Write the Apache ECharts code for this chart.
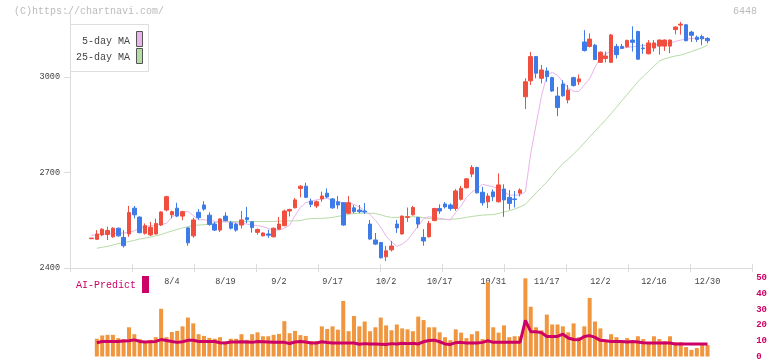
<!DOCTYPE html>
<html><head><meta charset="utf-8">
<script src="https://cdn.jsdelivr.net/npm/echarts@6/dist/echarts.min.js"></script>
<style>html,body{margin:0;padding:0;background:#fff}#c{width:772px;height:361px}</style>
</head><body><div id="c"></div>
<script>
const dates = ['7/11','7/14','7/15','7/16','7/17','7/18','7/22','7/23','7/24','7/25','7/28','7/29','7/30','7/31',
'8/1','8/4','8/5','8/6','8/7','8/8','8/12','8/13','8/14','8/15','8/18','8/19','8/20','8/21','8/22','8/25','8/26','8/27','8/28','8/29',
'9/1','9/2','9/3','9/4','9/5','9/8','9/9','9/10','9/11','9/12','9/16','9/17','9/18','9/19','9/22','9/24','9/25','9/26','9/29','9/30',
'10/1','10/2','10/3','10/6','10/7','10/8','10/9','10/10','10/14','10/15','10/16','10/17','10/20','10/21','10/22','10/23','10/24','10/27','10/28','10/29','10/30','10/31',
'11/4','11/5','11/6','11/7','11/10','11/11','11/12','11/13','11/14','11/17','11/18','11/19','11/20','11/21','11/25','11/26','11/27','11/28',
'12/1','12/2','12/3','12/4','12/5','12/8','12/9','12/10','12/11','12/12','12/15','12/16','12/17','12/18','12/19','12/22','12/23','12/24','12/25','12/26','12/29','12/30'];
const tickLabels = ['8/4','8/19','9/2','9/17','10/2','10/17','10/31','11/17','12/2','12/16','12/30'];
const priceTicks = [2400, 2700, 3000];
const volTicks = [0, 10, 20, 30, 40, 50];

const opens  = [2492,2490,2504,2505,2498,2525,2496,2507,2588,2560,2509,2504,2507,2535,2582,2567,2588,2563,2526,2501,2575,2598,2566,2538,2519,2563,2542,2538,2535,2558,2545,2512,2501,2507,2498,2522,2533,2579,2589,2650,2657,2610,2595,2617,2635,2617,2608,2605,2572,2589,2582,2579,2538,2488,2480,2435,2457,2538,2507,2559,2567,2559,2496,2498,2549,2587,2601,2598,2587,2616,2652,2695,2716,2638,2608,2639,2608,2648,2622,2617,2635,2938,2988,3064,2996,3019,2998,2940,2978,2928,2998,2985,3110,3096,3100,3046,3058,3046,3096,3096,3095,3116,3143,3091,3073,3091,3097,3097,3097,3149,3163,3164,3141,3125,3127,3121];
const closes = [2494,2507,2522,2518,2525,2501,2470,2574,2567,2511,2533,2528,2540,2576,2624,2577,2563,2577,2479,2551,2558,2585,2537,2519,2554,2549,2525,2519,2551,2552,2527,2521,2510,2503,2525,2538,2579,2584,2614,2657,2622,2600,2608,2626,2623,2589,2598,2535,2605,2577,2577,2576,2491,2475,2432,2454,2469,2526,2563,2561,2590,2538,2485,2540,2587,2579,2592,2587,2642,2650,2680,2716,2636,2605,2626,2624,2661,2614,2603,2615,2645,2985,3064,3012,3022,3001,2956,2904,2941,2959,2973,2994,3083,3119,3055,3078,3066,3132,3070,3090,3115,3109,3056,3089,3107,3107,3116,3116,3116,3157,3166,3114,3131,3118,3120,3114];
const lows   = [2492,2488,2500,2488,2495,2498,2464,2498,2556,2509,2505,2500,2505,2532,2578,2556,2560,2550,2470,2495,2552,2580,2533,2516,2513,2546,2521,2514,2524,2541,2511,2505,2499,2495,2496,2520,2531,2562,2588,2622,2620,2591,2588,2608,2620,2586,2586,2533,2570,2572,2572,2570,2489,2472,2430,2422,2452,2510,2505,2545,2565,2525,2470,2496,2547,2570,2587,2580,2580,2612,2650,2685,2634,2596,2588,2610,2606,2561,2583,2590,2625,2899,2975,2996,2980,2985,2953,2877,2938,2917,2970,2975,3080,3093,3053,3044,3046,3044,3058,3088,3093,3080,3054,3073,3071,3080,3070,3082,3075,3134,3133,3112,3110,3110,3100,3106];
const highs  = [2494,2519,2525,2530,2528,2527,2519,2595,2595,2562,2540,2545,2555,2578,2627,2580,2605,2580,2528,2558,2585,2610,2575,2545,2556,2575,2548,2542,2579,2592,2547,2524,2512,2520,2527,2560,2583,2586,2620,2660,2668,2618,2612,2640,2650,2620,2626,2607,2626,2598,2598,2604,2551,2510,2482,2469,2485,2551,2565,2590,2595,2561,2522,2548,2589,2600,2607,2603,2648,2658,2682,2723,2718,2655,2635,2647,2697,2663,2645,2642,2650,2996,3079,3066,3038,3030,3001,2969,2990,2975,3001,3008,3147,3137,3104,3080,3080,3135,3104,3104,3117,3159,3145,3104,3116,3116,3118,3118,3118,3159,3173,3166,3145,3130,3133,3125];

const ma5 = [2502,2505,2506,2507,2508,2509,2510,2512,2517,2524,2530,2533,2535,2537,2540,2560,2569,2576,2578,2565,2551,2552,2548,2547,2546,2545,2543,2542,2541,2538,2535,2533,2530,2524,2519,2519,2525,2535,2565,2590,2605,2610,2614,2617,2619,2612,2608,2605,2605,2600,2592,2580,2568,2550,2528,2500,2482,2468,2475,2488,2510,2532,2555,2561,2558,2556,2553,2551,2575,2595,2622,2638,2650,2663,2659,2655,2650,2640,2629,2629,2629,2640,2760,2850,2940,3005,3015,3005,2985,2965,2955,2955,2975,2995,3030,3060,3073,3080,3084,3090,3093,3095,3097,3099,3100,3101,3103,3105,3107,3112,3116,3119,3121,3122,3121,3121];
const ma25 = [null,2462,2465,2468,2472,2477,2480,2483,2487,2491,2494,2497,2501,2505,2511,2516,2521,2526,2530,2533,2535,2536,2538,2542,2545,2546,2546,2546,2546,2546,2546,2546,2546,2546,2546,2547,2548,2548,2548,2549,2553,2555,2556,2556,2557,2559,2562,2565,2569,2571,2572,2572,2572,2571,2567,2562,2559,2559,2560,2561,2561,2560,2558,2556,2554,2553,2553,2553,2554,2556,2559,2562,2564,2566,2567,2568,2571,2576,2580,2585,2592,2600,2618,2636,2653,2670,2690,2710,2728,2742,2758,2775,2793,2812,2830,2848,2866,2885,2905,2925,2945,2965,2985,3002,3018,3034,3050,3057,3062,3066,3069,3074,3080,3086,3092,3100];

const volume = [null,11.3,13.4,13.8,13.8,11.7,11.1,18.6,14.2,11.1,9.6,10.6,12.3,30.4,12.3,15.6,16.3,19.2,24.8,21.1,14.2,13.1,11.9,11.3,12.3,9.6,11.3,11.3,14.2,10.6,14.2,15.4,12.9,12.9,13.8,14.4,22.5,14.8,16.3,13.6,13.1,9.8,9.8,19.2,17.5,19.2,17.1,35.4,16.1,25.8,19.2,22.3,16.1,18.6,24.8,19.8,16.7,20.4,17.9,17.3,16.1,25.4,23.2,18.6,18.6,15.4,12.3,10.4,17.3,15.2,11.7,14.2,16.1,11.1,47.3,18.6,15.2,19.8,12.3,12.9,12.9,49.8,31.7,18.6,16.7,26.7,20.4,20.4,19.2,15.4,21.1,12.3,19.2,37.3,22.3,17.9,10.4,14.2,12.3,9.2,11.7,9.2,12.9,11.1,9.2,12.9,11.1,9.8,12.9,9.2,9.2,6.0,4.2,5.4,7.3,7.3];
const aiPredict = [null,8.8,9.6,9.6,9.6,9.6,9.8,10.0,10.6,9.6,9.2,9.4,9.6,10.8,10.2,9.6,9.0,9.4,10.3,10.3,9.6,9.6,9.6,9.6,8.8,8.6,9.2,9.2,9.4,9.2,9.0,9.6,9.4,9.2,9.0,9.0,9.0,8.3,9.2,9.6,9.2,8.6,8.6,9.4,8.9,8.6,8.6,8.6,8.6,8.6,7.8,8.2,7.9,7.9,7.8,7.7,8.2,7.9,8.4,8.2,8.4,8.0,9.4,10.2,10.4,9.4,8.0,7.7,8.8,9.0,8.6,8.6,8.6,9.0,10.0,9.0,9.0,9.0,9.0,9.0,9.0,23.0,15.8,15.8,15.2,12.8,12.8,12.8,14.2,11.8,10.8,10.6,12.8,13.3,12.2,10.3,10.0,9.6,9.6,9.6,9.2,9.6,9.2,8.8,8.6,8.6,8.6,8.6,8.6,7.9,7.9,7.9,7.9,7.9,7.9,7.9];

const candles = opens.map((o, i) => [o, closes[i], lows[i], highs[i]]);
const FONT = 'Liberation Mono';
const RED = '#f04e3e', BLUE = '#3d7be8';

const chart = echarts.init(document.getElementById('c'), null, {renderer: 'canvas'});
const CL = 88.8, CR = 61.8;
chart.setOption({
  animation: false,
  backgroundColor: '#fff',
  grid: [
    {left: CL, right: CR, top: 13.33, bottom: 93},
    {left: 70, right: 20, top: 13.33, bottom: 93},
    {left: CL, right: CR, top: 278, bottom: 2.3}
  ],
  xAxis: [
    {type: 'category', gridIndex: 0, data: dates, boundaryGap: true,
     axisLine: {show: false}, axisTick: {show: false}, splitLine: {show: false},
     axisLabel: {show: true, interval: (i) => tickLabels.indexOf(dates[i]) >= 0, margin: 9,
       color: '#444', fontFamily: FONT, fontSize: 8.5}},
    {type: 'value', gridIndex: 1, min: 0, max: 11, interval: 1,
     axisLine: {show: true, lineStyle: {color: '#dcdcdc', width: 1}},
     axisTick: {show: true, inside: true, length: 4, lineStyle: {color: '#dcdcdc'}},
     axisLabel: {show: false}, splitLine: {show: false}},
    {type: 'value', gridIndex: 1, min: 0, max: 11, interval: 1, position: 'bottom',
     axisLine: {show: false},
     axisTick: {show: true, inside: false, length: 4, lineStyle: {color: '#dcdcdc'}},
     axisLabel: {show: false}, splitLine: {show: false}},
    {type: 'category', gridIndex: 2, data: dates, boundaryGap: true,
     axisLine: {show: false}, axisTick: {show: false}, axisLabel: {show: false}, splitLine: {show: false}}
  ],
  yAxis: [
    {type: 'value', gridIndex: 0, min: 2400, max: 3200, show: false, splitLine: {show: false}},
    {type: 'value', gridIndex: 1, min: 2400, max: 3200, interval: 300,
     axisLine: {show: true, lineStyle: {color: '#dcdcdc'}},
     axisTick: {show: true, length: 6, lineStyle: {color: '#dcdcdc'}},
     axisLabel: {margin: 10, color: '#444', fontFamily: FONT, fontSize: 8.5,
       formatter: (v) => priceTicks.indexOf(v) >= 0 ? String(v) : ''},
     splitLine: {show: false}},
    {type: 'value', gridIndex: 2, min: 0, max: 50, interval: 10, position: 'right',
     axisLine: {show: false}, axisTick: {show: false}, splitLine: {show: false},
     axisLabel: {margin: 46, align: 'left', color: '#cc0066', fontFamily: FONT, fontSize: 9, fontWeight: 'bold',
       formatter: (v) => volTicks.indexOf(v) >= 0 ? String(v) : ''}}
  ],
  series: [
    {type: 'line', xAxisIndex: 0, yAxisIndex: 0, data: ma25, symbol: 'none', z: 1,
     lineStyle: {color: '#b6dca6', width: 1}},
    {type: 'line', xAxisIndex: 0, yAxisIndex: 0, data: ma5, symbol: 'none', z: 1,
     lineStyle: {color: '#e9b4ec', width: 1}},
    {type: 'candlestick', xAxisIndex: 0, yAxisIndex: 0, data: candles, barWidth: 4, z: 3,
     itemStyle: {color: RED, color0: BLUE, borderColor: RED, borderColor0: BLUE, borderWidth: 1}},
    {type: 'bar', xAxisIndex: 3, yAxisIndex: 2, data: volume, barWidth: 4,
     itemStyle: {color: '#f0963f'}},
    {type: 'line', xAxisIndex: 3, yAxisIndex: 2, data: aiPredict, symbol: 'none', z: 4,
     lineStyle: {color: '#cc0066', width: 3}}
  ],
  graphic: [
    {type: 'text', left: 14, top: 6, style: {text: '(C)https://chartnavi.com/', fill: '#bbbbbb', font: '10px "Liberation Mono"'}},
    {type: 'text', right: 15, top: 6, style: {text: '6448', fill: '#bbbbbb', font: '10px "Liberation Mono"'}},
    {type: 'rect', shape: {x: 70.5, y: 24.5, width: 78, height: 47}, style: {fill: '#fff', stroke: '#dddddd', lineWidth: 1}, z: 10},
    {type: 'text', x: 130, y: 41, style: {text: '5-day MA', fill: '#444', font: '10px "Liberation Mono"', align: 'right', verticalAlign: 'middle'}, z: 11},
    {type: 'text', x: 130, y: 57, style: {text: '25-day MA', fill: '#444', font: '10px "Liberation Mono"', align: 'right', verticalAlign: 'middle'}, z: 11},
    {type: 'rect', shape: {x: 136.5, y: 31.5, width: 6, height: 15}, style: {fill: '#e9b4ec', stroke: '#555', lineWidth: 1}, z: 11},
    {type: 'rect', shape: {x: 136.5, y: 48.5, width: 6, height: 15}, style: {fill: '#b6dca6', stroke: '#555', lineWidth: 1}, z: 11},
    {type: 'text', x: 76, y: 285, style: {text: 'AI-Predict', fill: '#cc0066', font: '10px "Liberation Mono"', verticalAlign: 'middle'}},
    {type: 'rect', shape: {x: 142, y: 276, width: 7, height: 17}, style: {fill: '#cc0066'}}
  ]
});
</script></body></html>
